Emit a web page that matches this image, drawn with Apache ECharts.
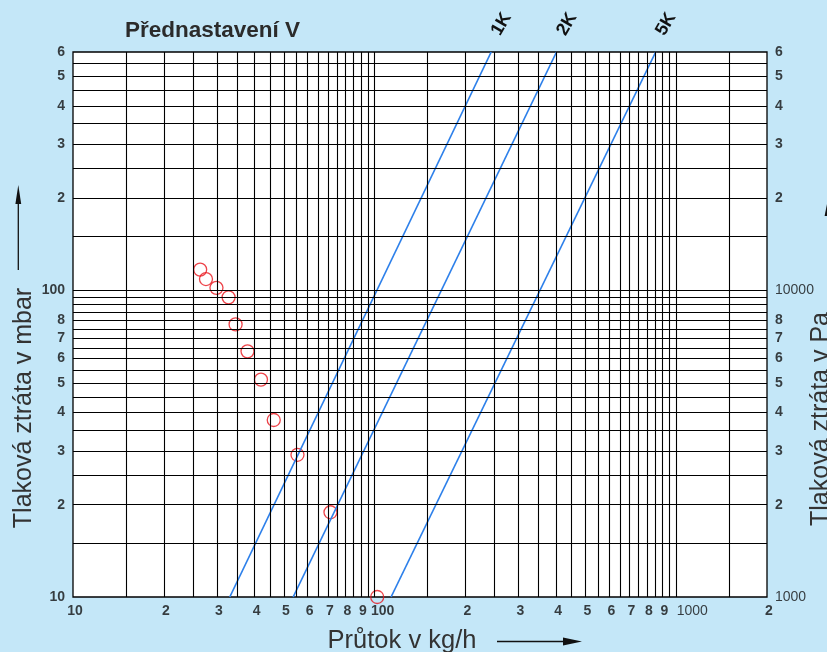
<!DOCTYPE html>
<html>
<head>
<meta charset="utf-8">
<script src="https://cdn.jsdelivr.net/npm/echarts@6/dist/echarts.min.js"></script>
<style>
html,body{margin:0;padding:0;background:#c4e7f8;}
#chart{width:827px;height:652px;}
</style>
</head>
<body>
<div id="chart"></div>
<script>
// ---------- texts ----------
const titleText = 'Přednastavení V';
const xAxisName = 'Průtok v kg/h';
const yLeftName = 'Tlaková ztráta v mbar';
const yRightName = 'Tlaková ztráta v Pa';

// ---------- axis ranges ----------
const xRange = [10, 2000];
const yRange = [10, 600];
const yRightRange = [1000, 60000];

// ---------- grid line values ----------
const xGridValues = [15,20,25,30,35,40,45,50,55,60,65,70,75,80,85,90,95,100,
  150,200,250,300,350,400,450,500,550,600,650,700,750,800,850,900,950,1000,1500];
const yGridValues = [15,20,25,30,35,40,45,50,55,60,65,70,75,80,85,90,95,100,
  150,200,250,300,350,400,450,500,550];

// ---------- tick labels ----------
const xTickValues = [10,20,30,40,50,60,70,80,90,100,200,300,400,500,600,700,800,900,1000,2000];
const xTickLabels = ['10','2','3','4','5','6','7','8','9','100','2','3','4','5','6','7','8','9','1000','2'];
const yLeftTickValues = [10,20,30,40,50,60,70,80,100,200,300,400,500,600];
const yLeftTickLabels = ['10','2','3','4','5','6','7','8','100','2','3','4','5','6'];
const yRightTickValues = [1000,2000,3000,4000,5000,6000,7000,8000,10000,20000,30000,40000,50000,60000];
const yRightTickLabels = ['1000','2','3','4','5','6','7','8','10000','2','3','4','5','6'];

// ---------- preset lines (flow kg/h, loss mbar) ----------
const presetNames = ['1K', '2K', '5K'];
const preset1K = [[33.1, 10], [243.5, 600]];
const preset2K = [[53.7, 10], [401, 600]];
const preset5K = [[113.4, 10], [855, 600]];

// ---------- measured points ----------
const measuredFlow = [26.4, 27.6, 29.9, 32.8, 34.6, 37.9, 42.0, 46.3, 55.5, 71.4, 102];
const measuredLoss = [117, 109, 102, 95, 77.5, 63.3, 51.2, 37.8, 29.1, 18.9, 10];

// ---------- build ----------
const FONT = '"Liberation Sans", Arial, Helvetica, sans-serif';
const presets = [preset1K, preset2K, preset5K];
const BLUE = '#2d80ea';

const gridLineData = []
  .concat(xGridValues.map(v => ({ xAxis: v })))
  .concat(yGridValues.map(v => ({ yAxis: v })));

function isBig(s) { return s === '1000' || s === '10000'; }

const xTickData = xTickValues.map((v, i) => {
  const s = xTickLabels[i];
  let pl = 4;
  if (s === '100') pl = 16;
  if (s === '1000') pl = 32;
  return { value: [v, yRange[0]], label: { padding: [0, 0, 0, pl], fontWeight: isBig(s) ? 'normal' : 'bold' } };
});
const yLeftTickData = yLeftTickValues.map((v, i) => {
  const s = yLeftTickLabels[i];
  return { value: [xRange[0], v], label: { padding: s === '10' ? [0, 0, 8, 0] : 0 } };
});
const yRightTickData = yRightTickValues.map((v, i) => {
  const s = yRightTickLabels[i];
  let pb = 0;
  if (s === '1000') pb = 10;
  if (s === '10000') pb = 8;
  return { value: [xRange[1], v], label: { padding: [0, 0, pb, 0], fontWeight: isBig(s) ? 'normal' : 'bold' } };
});

const tickBase = {
  type: 'scatter', symbol: 'circle', symbolSize: 0, silent: true, clip: false,
  emphasis: { disabled: true }, itemStyle: { color: 'transparent' }
};

const series = [
  {
    type: 'line', data: [], silent: true,
    markLine: {
      silent: true, symbol: ['none', 'none'], animation: false,
      label: { show: false },
      lineStyle: { color: '#000', width: 1.1, type: 'solid' },
      emphasis: { disabled: true },
      data: gridLineData
    }
  },
  Object.assign({}, tickBase, {
    data: xTickData,
    label: { show: true, position: 'bottom', distance: 7, fontSize: 14, fontWeight: 'bold', color: '#111', fontFamily: FONT,
      formatter: p => xTickLabels[p.dataIndex] }
  }),
  Object.assign({}, tickBase, {
    data: yLeftTickData,
    label: { show: true, position: 'left', distance: 8, fontSize: 14, fontWeight: 'bold', color: '#111', fontFamily: FONT,
      formatter: p => yLeftTickLabels[p.dataIndex] }
  }),
  Object.assign({}, tickBase, {
    yAxisIndex: 1,
    data: yRightTickData,
    label: { show: true, position: 'right', distance: 8, fontSize: 14, fontWeight: 'bold', color: '#111', fontFamily: FONT,
      formatter: p => yRightTickLabels[p.dataIndex] }
  })
];

presets.forEach((pts, i) => {
  series.push({
    type: 'line', name: presetNames[i],
    data: pts.map((p, j) => j === pts.length - 1 ? { value: p, label: { show: true } } : { value: p }),
    symbol: 'circle', symbolSize: 0.1, showSymbol: true, clip: false, silent: true,
    lineStyle: { color: BLUE, width: 1.7 }, itemStyle: { color: BLUE },
    label: { show: false, formatter: presetNames[i], position: 'inside', rotate: 60,
      fontSize: 18, fontWeight: 'bold', color: '#111', fontFamily: FONT, padding: [0, 0, 42, 50], offset: [4.3, -5] },
    emphasis: { disabled: true }
  });
});

series.push({
  type: 'scatter', name: 'měření', silent: true, clip: false,
  data: measuredFlow.map((f, i) => [f, measuredLoss[i]]),
  symbol: 'circle', symbolSize: 13,
  itemStyle: { color: 'transparent', borderColor: '#e8141b', borderWidth: 1.3 },
  emphasis: { disabled: true }
});

const chart = echarts.init(document.getElementById('chart'), null, { renderer: 'canvas' });
chart.setOption({
  animation: false,
  backgroundColor: '#c4e7f8',
  textStyle: { fontFamily: FONT },
  title: {
    text: titleText, left: 125, top: 19, padding: 0,
    textStyle: { fontSize: 22.5, fontWeight: 'bold', color: '#2b2b2b', fontFamily: FONT }
  },
  grid: {
    left: 73, right: 60, top: 52, bottom: 55,
    outerBoundsMode: 'none', containLabel: false,
    show: true, backgroundColor: '#fff', borderColor: '#000', borderWidth: 1.3
  },
  xAxis: {
    type: 'log', logBase: 10, min: xRange[0], max: xRange[1],
    name: xAxisName, nameLocation: 'middle', nameGap: 31,
    nameTextStyle: { fontSize: 25.5, color: '#333', fontFamily: FONT, padding: [0, 36, 0, 0] },
    axisLine: { show: false }, axisTick: { show: false }, axisLabel: { show: false }, splitLine: { show: false }
  },
  yAxis: [
    {
      type: 'log', logBase: 10, min: yRange[0], max: yRange[1],
      name: yLeftName, nameLocation: 'middle', nameRotate: 90, nameGap: 36,
      nameTextStyle: { fontSize: 25, color: '#333', fontFamily: FONT, padding: [0, 167, 0, 0] },
      axisLine: { show: false }, axisTick: { show: false }, axisLabel: { show: false }, splitLine: { show: false }
    },
    {
      type: 'log', logBase: 10, min: yRightRange[0], max: yRightRange[1], position: 'right',
      name: yRightName, nameLocation: 'middle', nameRotate: 90, nameGap: 42,
      nameTextStyle: { fontSize: 25, color: '#333', fontFamily: FONT, padding: [0, 189, 0, 0] },
      axisLine: { show: false }, axisTick: { show: false }, axisLabel: { show: false }, splitLine: { show: false }
    }
  ],
  graphic: [
    { type: 'line', shape: { x1: 18.3, y1: 270, x2: 18.3, y2: 200 }, style: { stroke: '#111', lineWidth: 1.3 } },
    { type: 'polygon', shape: { points: [[18.3, 185], [15.4, 204], [21.2, 204]] }, style: { fill: '#111' } },
    { type: 'line', shape: { x1: 497, y1: 641.5, x2: 568, y2: 641.5 }, style: { stroke: '#111', lineWidth: 1.3 } },
    { type: 'polygon', shape: { points: [[582, 641.5], [563, 637.6], [563, 645.4]] }, style: { fill: '#111' } },
    { type: 'polygon', shape: { points: [[828, 199], [824.6, 216], [831.4, 216]] }, style: { fill: '#111' } },
    { type: 'line', shape: { x1: 828, y1: 216, x2: 828, y2: 285 }, style: { stroke: '#111', lineWidth: 1.3 } }
  ],
  series: series
});
</script>
</body>
</html>
